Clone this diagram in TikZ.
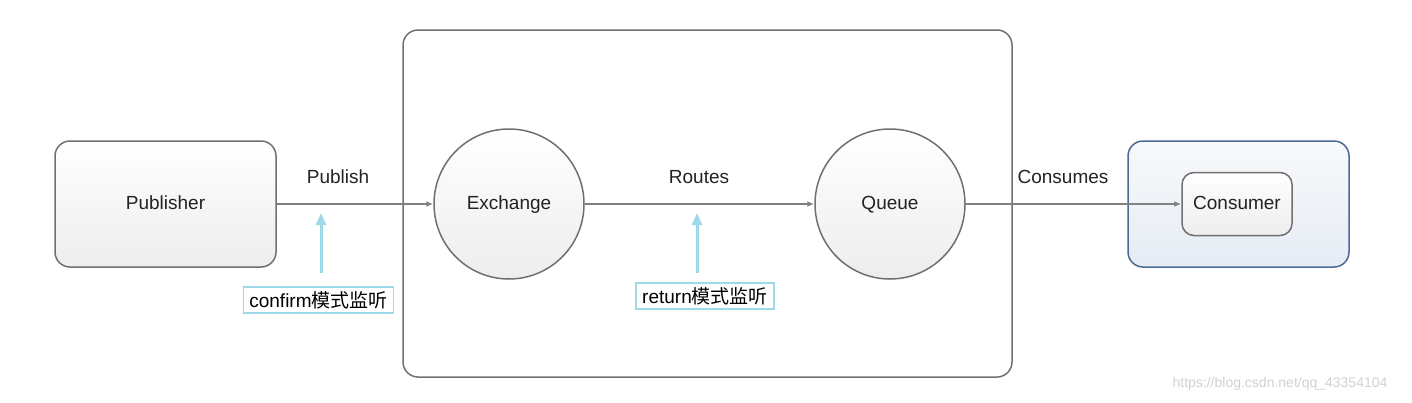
\documentclass[tikz,border=0pt]{standalone}
\usepackage{fontspec}
\setmainfont{Liberation Sans}
\newfontfamily\cjk{Noto Sans CJK SC}
\usetikzlibrary{arrows.meta,shadows}
\definecolor{edge}{HTML}{707070}
\definecolor{lineg}{HTML}{808080}
\definecolor{hint}{HTML}{9FD8E8}
\definecolor{bluebd}{HTML}{4A6A96}
\definecolor{bluetop}{HTML}{F8F9FB}
\definecolor{bluebot}{HTML}{E6EBF4}
\definecolor{txt}{HTML}{222222}
\tikzset{
  lbl/.style={font=\fontsize{19}{22}\selectfont, text=txt},
  ctr/.style={text height=13.5pt, text depth=3.5pt},
  gbox/.style={draw=edge, line width=1.5pt, rounded corners=15pt, top color=white, bottom color=black!7, lbl, ctr},
  gcirc/.style={circle, draw=edge, line width=1.5pt, top color=white, bottom color=black!7, minimum size=150pt, inner sep=0pt, lbl, ctr},
  flow/.style={draw=lineg, line width=1.5pt, -{Latex[length=7pt,width=6pt]}},
  hintarrow/.style={draw=hint, line width=3pt, -{Triangle[length=12pt,width=10pt]}},
  hintbox/.style={draw=hint, line width=1.6pt, fill=white, inner xsep=6pt, inner ysep=4pt, lbl, text=black},
}
\begin{document}
\begin{tikzpicture}[x=1pt,y=-1pt]
\useasboundingbox (0,0) rectangle (1412,402);
% container
\node[draw=edge, line width=1.5pt, rounded corners=15pt, minimum width=609pt, minimum height=347pt, inner sep=0pt] (box) at (707.5,203.5) {};
% publisher
\node[gbox, minimum width=221pt, minimum height=126pt, inner sep=0pt] (pub) at (165.5,204) {Publisher};
% circles
\node[gcirc] (ex) at (509,204) {Exchange};
\node[gcirc] (q) at (890,204) {Queue};
% consumer
\node[draw=bluebd, line width=1.5pt, rounded corners=15pt, top color=bluetop, bottom color=bluebot, minimum width=221pt, minimum height=126pt, inner sep=0pt] (cons) at (1238.5,204) {};
\node[gbox, rounded corners=12pt, minimum width=110pt, minimum height=63pt, inner sep=0pt] (consumer) at (1237,204) {Consumer};
% flows
\draw[flow] (pub.east) -- (ex.west);
\draw[flow] (ex.east) -- (q.west);
\draw[flow] (q.east) -- (consumer.west);
% labels
\node[lbl] (lpub) at (338,177) {Publish};
\node[lbl] (lrt) at (699,177) {Routes};
\node[lbl] (lcon) at (1063,177) {Consumes};
% hints
\node[hintbox] (hc) at (318.5,300) {confirm{\cjk 模式监听}};
\node[hintbox] (hr) at (705,296) {return{\cjk 模式监听}};
\coordinate (hca) at (321,213);
\coordinate (hra) at (697,213);
\draw[hintarrow] (321,273) -- (hca);
\draw[hintarrow] (697,273) -- (hra);
% watermark
\node[font=\fontsize{14}{16}\selectfont, text=black!18] (wm) at (1280,384) {https://blog.csdn.net/qq\_43354104};
\end{tikzpicture}
\end{document}
